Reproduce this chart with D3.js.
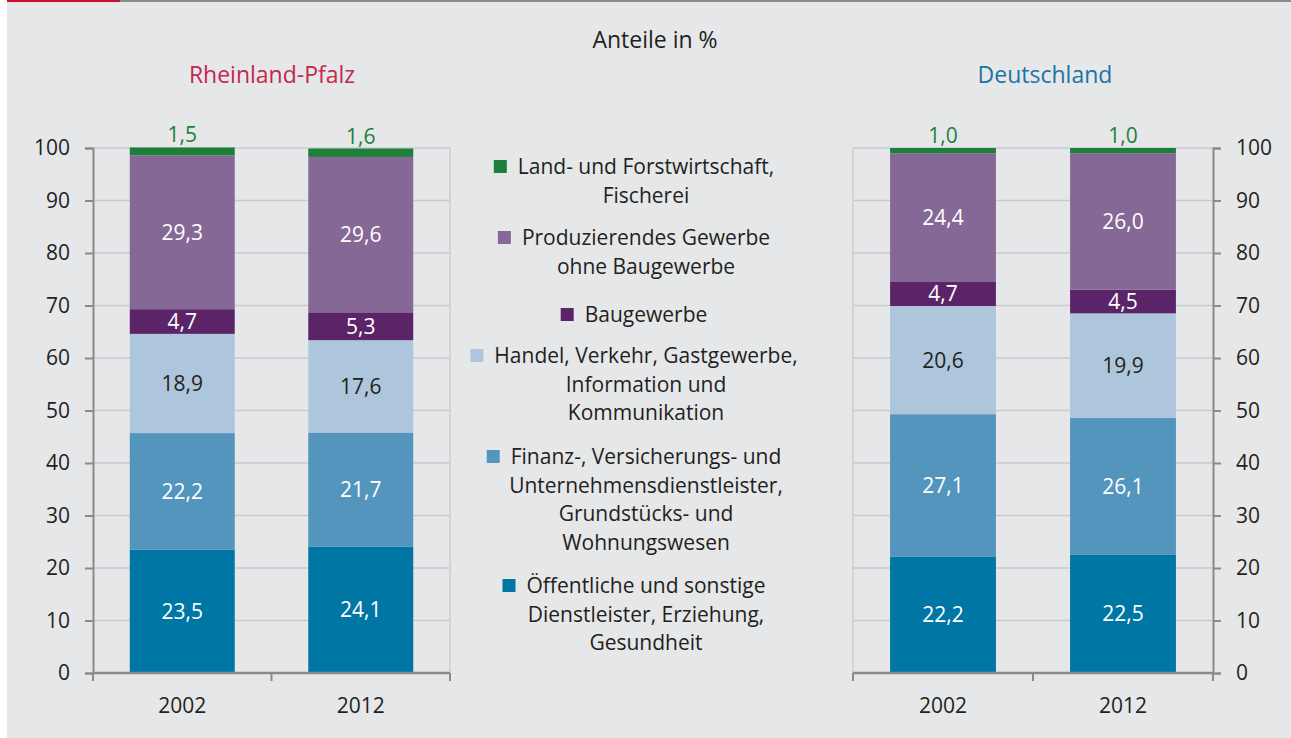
<!DOCTYPE html>
<html><head><meta charset="utf-8">
<script src="https://cdn.jsdelivr.net/npm/d3@7"></script>
<style>
body{margin:0;background:#fff;}
svg{display:block;font-family:"Open Sans",sans-serif;}
</style></head><body>
<svg id="c" width="1291" height="738"></svg>
<script>
const years = ["2002", "2012"];
const sectors = ["Öffentliche", "Finanz", "Handel", "Baugewerbe", "Produzierendes", "Land"];
const legendLabels = [
  ["Land- und Forstwirtschaft,", "Fischerei"],
  ["Produzierendes Gewerbe", "ohne Baugewerbe"],
  ["Baugewerbe"],
  ["Handel, Verkehr, Gastgewerbe,", "Information und", "Kommunikation"],
  ["Finanz-, Versicherungs- und", "Unternehmensdienstleister,", "Grundstücks- und", "Wohnungswesen"],
  ["Öffentliche und sonstige", "Dienstleister, Erziehung,", "Gesundheit"]
];
const legendOrder = ["Land", "Produzierendes", "Baugewerbe", "Handel", "Finanz", "Öffentliche"];
// values per sector (bottom to top), for 2002 and 2012
const rlp2002 = [23.5, 22.2, 18.9, 4.7, 29.3, 1.5];
const rlp2012 = [24.1, 21.7, 17.6, 5.3, 29.6, 1.6];
const de2002 = [22.2, 27.1, 20.6, 4.7, 24.4, 1.0];
const de2012 = [22.5, 26.1, 19.9, 4.5, 26.0, 1.0];
const yTicks = [0, 10, 20, 30, 40, 50, 60, 70, 80, 90, 100];

const colors = {
  "Öffentliche": "#0076a5", "Finanz": "#5495be", "Handel": "#aec6dc",
  "Baugewerbe": "#5b2468", "Produzierendes": "#866896", "Land": "#1e7f3a"
};
const labelColor = {
  "Öffentliche": "#fff", "Finanz": "#fff", "Handel": "#231f20",
  "Baugewerbe": "#fff", "Produzierendes": "#fff", "Land": "#1e7f3a"
};
const fmt = v => d3.format(".1f")(v).replace(".", ",");

const svg = d3.select("#c");
svg.append("rect").attr("x", 7).attr("y", 0).attr("width", 1284).attr("height", 738).attr("fill", "#e6e7e9");
svg.append("rect").attr("x", 7).attr("y", 0).attr("width", 1284).attr("height", 2).attr("fill", "#8a8a8c");
svg.append("rect").attr("x", 7).attr("y", 0).attr("width", 113).attr("height", 2).attr("fill", "#c8102e");

svg.append("text").attr("x", 655).attr("y", 48).attr("text-anchor", "middle")
  .attr("font-size", 23).attr("fill", "#231f20").text("Anteile in %");

const y = d3.scaleLinear().domain([0, 100]).range([673, 148]);

function panel(title, titleColor, titleX, x0, x1, data, axisSide) {
  const g = svg.append("g");
  const x = d3.scaleBand().domain(years).range([x0, x1]).paddingInner(0.412).paddingOuter(0.206);
  g.append("text").attr("x", titleX).attr("y", 83).attr("text-anchor", "middle")
    .attr("font-size", 23).attr("fill", titleColor).text(title);
  // grid
  g.selectAll(".grid").data(yTicks.slice(1)).join("line")
    .attr("x1", x0).attr("x2", x1).attr("y1", d => y(d)).attr("y2", d => y(d))
    .attr("stroke", "#c9cacc").attr("stroke-width", 1.3);
  // far vertical border
  const fx = axisSide === "left" ? x1 : x0;
  g.append("line").attr("x1", fx).attr("x2", fx).attr("y1", y(100)).attr("y2", y(0))
    .attr("stroke", "#c9cacc").attr("stroke-width", 1.3);
  // bars
  years.forEach((yr, i) => {
    const vals = data[i];
    let cum = 0;
    vals.forEach((v, k) => {
      const s = sectors[k];
      const b0 = cum, b1 = cum + v; cum = b1;
      g.append("rect").attr("x", x(yr)).attr("width", x.bandwidth())
        .attr("y", y(b1)).attr("height", y(b0) - y(b1)).attr("fill", colors[s]);
      const cx = x(yr) + x.bandwidth() / 2;
      if (s === "Land") {
        g.append("text").attr("x", cx).attr("y", y(b1) - 5).attr("text-anchor", "middle")
          .attr("font-size", 21).attr("fill", labelColor[s]).text(fmt(v));
      } else {
        g.append("text").attr("x", cx).attr("y", (y(b0) + y(b1)) / 2).attr("dy", "0.36em")
          .attr("text-anchor", "middle").attr("font-size", 21).attr("fill", labelColor[s]).text(fmt(v));
      }
    });
  });
  // y axis
  const ax = axisSide === "left" ? d3.axisLeft(y) : d3.axisRight(y);
  ax.tickValues(yTicks).tickSize(8).tickPadding(15).tickFormat(d3.format("d"));
  const ya = g.append("g").attr("transform", `translate(${axisSide === "left" ? x0 : x1},0)`).call(ax);
  ya.select(".domain").attr("stroke", "#8a8a8c").attr("stroke-width", 2);
  ya.selectAll(".tick line").attr("stroke", "#8a8a8c").attr("stroke-width", 2);
  ya.selectAll("text").attr("font-size", 21).attr("fill", "#231f20").attr("font-family", "Open Sans");
  // x axis
  g.append("line").attr("x1", x0).attr("x2", x1).attr("y1", y(0)).attr("y2", y(0))
    .attr("stroke", "#8a8a8c").attr("stroke-width", 2.5);
  [x0, (x0 + x1) / 2, x1].forEach(t => {
    g.append("line").attr("x1", t).attr("x2", t).attr("y1", y(0)).attr("y2", y(0) + 8)
      .attr("stroke", "#8a8a8c").attr("stroke-width", 2);
  });
  years.forEach(yr => {
    g.append("text").attr("x", x(yr) + x.bandwidth() / 2).attr("y", 713).attr("text-anchor", "middle")
      .attr("font-size", 21).attr("fill", "#231f20").text(yr);
  });
}

panel("Rheinland-Pfalz", "#c3284f", 272, 93, 450, [rlp2002, rlp2012], "left");
panel("Deutschland", "#1c73a6", 1045, 853, 1213, [de2002, de2012], "right");

// legend
const legendY = [174, 245, 322, 363, 464, 593];
const lg = svg.append("g");
legendOrder.forEach((s, i) => {
  const lines = legendLabels[i];
  const t = lg.append("text").attr("text-anchor", "middle").attr("font-size", 21).attr("fill", "#231f20");
  lines.forEach((ln, j) => {
    t.append("tspan").attr("x", 646).attr("y", legendY[i] + j * 28.5).text(ln);
  });
  const w = t.select("tspan").node().getComputedTextLength();
  lg.append("rect").attr("x", 646 - w / 2 - 24).attr("y", legendY[i] - 14).attr("width", 13).attr("height", 13)
    .attr("fill", colors[s]);
});
</script>
</body></html>
